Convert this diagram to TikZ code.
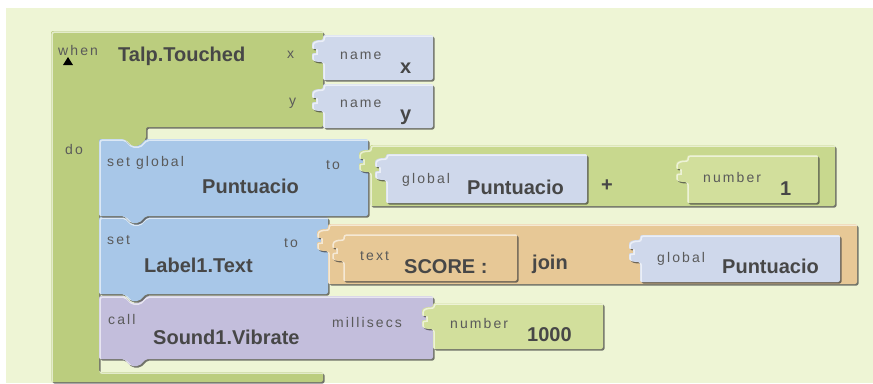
\documentclass[tikz,border=0pt]{standalone}
\usepackage{fontspec}
\setmainfont{Liberation Sans}
\newfontfamily\tagfont[LetterSpace=15]{Liberation Sans}
\usetikzlibrary{positioning}
\definecolor{AIBack}{HTML}{EEF5D5}
\definecolor{AIEvent}{HTML}{BBCD7E}
\definecolor{AIMath}{HTML}{C8D88E}
\definecolor{AINumber}{HTML}{D2DF9C}
\definecolor{AIVar}{HTML}{A8C7E8}
\definecolor{AIGetter}{HTML}{CFD8EB}
\definecolor{AIText}{HTML}{E7C896}
\definecolor{AICall}{HTML}{C3BEDC}
\definecolor{AIShade}{HTML}{3C3C3C}
\definecolor{AIInk}{HTML}{474747}
\definecolor{AIFaint}{HTML}{5A5A5A}

% left knob of a plug, traced upwards from (#1,#2+22) to (#1,#2)
\newcommand{\knob}[2]{-- (#1,#2+22) .. controls (#1-7,#2+22) and (#1-11,#2+21) .. (#1-11,#2+16)
  .. controls (#1-11,#2+13) and (#1-7,#2+13) .. (#1-7,#2+11)
  .. controls (#1-7,#2+9) and (#1-11,#2+9) .. (#1-11,#2+6)
  .. controls (#1-11,#2+1) and (#1-7,#2) .. (#1,#2)}
% plug block: corners (#1,#2) and (#3,#4), knob top at #5
\newcommand{\plug}[5]{(#1,#2) -- (#3,#2) -- (#3,#4) -- (#1,#4) \knob{#1}{#5} -- cycle}
% stack block: notch on top, tab below
\newcommand{\stack}[4]{(#1,#2) -- (124,#2) -- (131,#2+7) -- (139,#2+7) -- (146,#2) -- (#3,#2)
  -- (#3,#4) -- (146,#4) -- (139,#4+7) -- (131,#4+7) -- (124,#4) -- (#1,#4) -- cycle}
% bevelled piece: shade, fill, light rim
\newcommand{\piece}[2]{%
  \fill[AIShade,opacity=.7,shift={(1.5,1.5)},rounded corners=2] #2;
  \fill[#1,rounded corners=2] #2;
  \begin{scope}
    \clip[rounded corners=2] #2;
    \draw[white,opacity=.6,line width=1.5,shift={(1.2,1.2)},rounded corners=2] #2;
  \end{scope}}

\begin{document}
\begin{tikzpicture}[x=1pt,y=-1pt,
 tagtxt/.style={font=\tagfont\fontsize{14}{16}\selectfont,text=AIFaint,anchor=base west,inner sep=0pt},
 valtxt/.style={font=\bfseries\fontsize{20}{22}\selectfont,text=AIInk,anchor=base west,inner sep=0pt}]
\useasboundingbox (0,0) rectangle (873,383);
\fill[white] (0,0) rectangle (873,383);
\fill[AIBack] (6,8) rectangle (873,383);

% event block
\piece{AIEvent}{(51,31) -- (323,31) -- (323,127) -- (146,127) -- (146,139) -- (139,146) -- (131,146)
  -- (124,139) -- (99,139) -- (99,372) -- (323,372) -- (323,382) -- (51,382) -- cycle}
\fill[black] (63,65) -- (73,65) -- (68,57) -- cycle;
\node[tagtxt] (when) at (58,55) {when};
\node[valtxt] (event) at (118,61) {Talp.Touched};
\node[tagtxt] (argx) at (287,58) {x};
\node[tagtxt] (argy) at (289,105) {y};
\node[tagtxt] (do) at (65,154) {do};

% parameters
\piece{AIGetter}{\plug{323}{35}{433}{80}{40}}
\node[tagtxt] (namex) at (340,59) {name};
\node[valtxt] (valx) at (400,73) {x};
\piece{AIGetter}{\plug{323}{84}{433}{128}{89}}
\node[tagtxt] (namey) at (340,107) {name};
\node[valtxt] (valy) at (400,120) {y};

% call Sound1.Vibrate
\piece{AICall}{\stack{99}{296}{433}{359}}
\node[tagtxt] (call) at (108,324) {call};
\node[valtxt] (vibrate) at (153,344) {Sound1.Vibrate};
\node[tagtxt] (msecs) at (332,327) {millisecs};
\piece{AINumber}{\plug{433}{303}{603}{349}{307}}
\node[tagtxt] (numlbl) at (450,328) {number};
\node[valtxt] (msval) at (527,341) {1000};

% set Label1.Text
\piece{AIVar}{\stack{99}{217}{328}{294}}
\node[tagtxt] (setl) at (107,244) {set};
\node[valtxt] (label) at (144,272) {Label1.Text};
\node[tagtxt] (tol) at (284,247) {to};
\piece{AIText}{\plug{328}{224}{857}{284}{229}}
\node[valtxt] (join) at (532,269) {join};
\piece{AIText}{\plug{343}{234}{517}{281}{239}}
\node[tagtxt] (textlbl) at (360,260) {text};
\node[valtxt] (score) at (404,273) {SCORE :};
\piece{AIGetter}{\plug{640}{235}{840}{282}{240}}
\node[tagtxt] (glob2) at (657,262) {global};
\node[valtxt] (punt3) at (722,273) {Puntuacio};

% set global Puntuacio
\piece{AIVar}{\stack{99}{139}{368}{216}}
\node[tagtxt] (setg) at (107,166) {set global};
\node[valtxt] (punt1) at (202,193) {Puntuacio};
\node[tagtxt] (tog) at (326,169) {to};
\piece{AIMath}{\plug{370}{145}{835}{206}{150}}
\node[valtxt] (plus) at (601,191) {+};
\piece{AIGetter}{\plug{386}{154}{587}{203}{158}}
\node[tagtxt] (glob1) at (402,183) {global};
\node[valtxt] (punt2) at (467,194) {Puntuacio};
\piece{AINumber}{\plug{687}{155}{818}{203}{160}}
\node[tagtxt] (numone) at (703,182) {number};
\node[valtxt] (one) at (780,195) {1};
\end{tikzpicture}
\end{document}
